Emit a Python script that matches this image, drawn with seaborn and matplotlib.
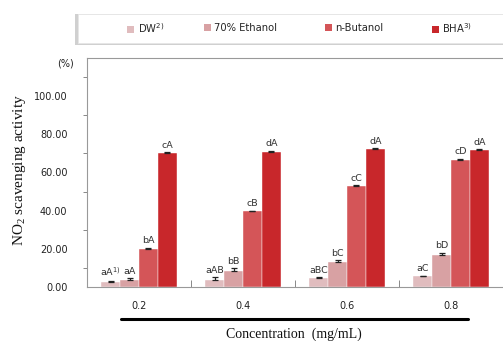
import numpy as np
import pandas as pd
import seaborn as sns
import matplotlib.pyplot as plt
from matplotlib.lines import Line2D
from matplotlib.patches import Rectangle

# Measured NO2 scavenging activity (%) by extract and concentration
concentrations = ["0.2", "0.4", "0.6", "0.8"]
solvents = ["DW", "70% Ethanol", "n-Butanol", "BHA"]
legend_labels = ["DW$^{\\mathregular{2)}}$", "70% Ethanol", "n-Butanol", "BHA$^{\\mathregular{3)}}$"]

dw_mean = [2.8, 3.7, 4.6, 5.6]
ethanol_mean = [3.7, 8.4, 13.2, 16.8]
butanol_mean = [20.0, 39.6, 52.8, 66.8]
bha_mean = [70.4, 70.9, 72.1, 71.6]

dw_sd = [0.5, 1.4, 0.6, 0.4]
ethanol_sd = [1.0, 1.4, 1.0, 1.2]
butanol_sd = [0.6, 0.4, 0.4, 0.4]
bha_sd = [0.3, 0.6, 0.7, 0.6]

dw_sig = ["aA$^{\\mathregular{1)}}$", "aAB", "aBC", "aC"]
ethanol_sig = ["aA", "bB", "bC", "bD"]
butanol_sig = ["bA", "cB", "cC", "cD"]
bha_sig = ["cA", "dA", "dA", "dA"]

colors = ["#e0bcbe", "#d8a1a3", "#d45558", "#c8272b"]

means = [dw_mean, ethanol_mean, butanol_mean, bha_mean]
sds = [dw_sd, ethanol_sd, butanol_sd, bha_sd]
sigs = [dw_sig, ethanol_sig, butanol_sig, bha_sig]

rows = []
for s, m in zip(solvents, means):
    for c, v in zip(concentrations, m):
        rows.append({"conc": c, "solvent": s, "value": v})
df = pd.DataFrame(rows)

sns.set_theme(style="white")
plt.rcParams["font.family"] = ["DejaVu Sans"]

fig = plt.figure(figsize=(5.03, 3.41), dpi=100)
ax = fig.add_axes([87 / 503, 54 / 341, 416 / 503, 229 / 341])

sns.barplot(data=df, x="conc", y="value", hue="solvent", order=concentrations,
            hue_order=solvents, palette=colors, width=0.73, gap=0,
            errorbar=None, saturation=1, legend=False, ax=ax,
            edgecolor="white", linewidth=0.3)

for cont, sd, sig in zip(ax.containers, sds, sigs):
    for bar, e, lab in zip(cont, sd, sig):
        x = bar.get_x() + bar.get_width() / 2
        h = bar.get_height()
        ax.errorbar(x, h, yerr=[[0], [e]], fmt="none", ecolor="#222222",
                    elinewidth=0.9, capsize=2.5, capthick=0.9)
        ax.text(x, h + e + 1.2, lab, ha="center", va="bottom",
                fontsize=6.8, color="#333333")

ax.set_xlim(-0.5, 3.5)
ax.set_ylim(0, 120)
ax.set_yticks(np.arange(0, 101, 20))
ax.set_yticklabels([f"{v:.2f}" for v in np.arange(0, 101, 20)], fontsize=7, color="#222222")
ax.set_yticks(np.arange(10, 120, 20), minor=True)
ax.tick_params(axis="y", which="major", length=0, pad=14)
ax.tick_params(axis="y", which="minor", length=3, width=0.7, color="#888888", direction="out", left=True)

ax.set_xticks(range(4))
ax.set_xticklabels(concentrations, fontsize=7, color="#222222")
ax.set_xticks([0.5, 1.5, 2.5], minor=True)
ax.tick_params(axis="x", which="major", length=0, pad=10)
ax.tick_params(axis="x", which="minor", length=5, width=0.7, color="#888888", direction="in", bottom=True)

ax.set_xlabel("")
ax.set_ylabel("")
for side in ["left", "bottom", "top"]:
    ax.spines[side].set_color("#999999")
    ax.spines[side].set_linewidth(0.8)
ax.spines["right"].set_visible(False)

fig.text(20 / 503, 1 - 170 / 341, "NO$_\\mathregular{2}$ scavenging activity", rotation=90,
         ha="center", va="center", fontsize=11, family="Liberation Serif", color="#111111")
fig.text(66 / 503, 1 - 63 / 341, "(%)", ha="center", va="center", fontsize=7, color="#222222")

fig.add_artist(Line2D([121 / 503, 468 / 503], [1 - 319 / 341, 1 - 319 / 341],
                      color="black", linewidth=2.2, transform=fig.transFigure))
fig.text(294 / 503, 1 - 334 / 341, "Concentration  (mg/mL)", ha="center", va="center",
         fontsize=10, family="Liberation Serif", color="#111111")

# legend box with soft shadow
shadow = Rectangle((75 / 503, 1 - 45 / 341), 0.9, 31 / 341, transform=fig.transFigure,
                   facecolor="#d0d0d0", edgecolor="none", zorder=0)
box = Rectangle((78 / 503, 1 - 43 / 341), 0.9, 29 / 341, transform=fig.transFigure,
                facecolor="white", edgecolor="#e6e6e6", linewidth=0.6, zorder=1)
fig.add_artist(shadow)
fig.add_artist(box)

# one legend entry per solvent, spaced like the original key
entry_x = [127, 204, 325, 432]
for c, lab, ex in zip(colors, legend_labels, entry_x):
    h = Rectangle((0, 0), 1, 1, facecolor=c, edgecolor="none")
    leg = fig.legend([h], [lab], loc="center left",
                     bbox_to_anchor=(ex / 503, 1 - 28 / 341), frameon=False,
                     fontsize=7.2, handlelength=0.7, handleheight=0.7,
                     handletextpad=0.35, borderpad=0, borderaxespad=0)
    leg.set_zorder(2)

fig.savefig("out.png", dpi=100)
